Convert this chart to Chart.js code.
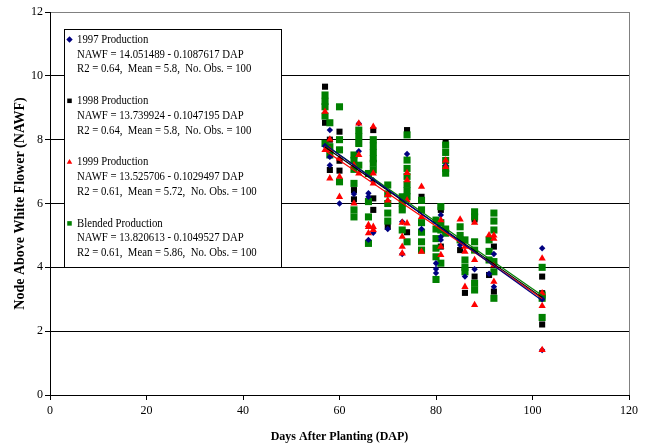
<!DOCTYPE html>
<html>
<head>
<meta charset="utf-8">
<script src="https://cdn.jsdelivr.net/npm/chart.js@4/dist/chart.umd.min.js"></script>
<style>
  html, body { margin: 0; padding: 0; background: #fff; }
  #wrap { width: 654px; height: 448px; }
</style>
</head>
<body>
<div id="wrap"><canvas id="c" width="654" height="448"></canvas></div>
<script>
// Node above white flower (NAWF) observations by days after planting (DAP)
const dap1997  = [57, 58,58,58, 60, 63, 64,64, 66,66,66, 67,67, 70, 73,73, 74, 77, 80,80,80, 81,81,81, 82, 85, 86, 88, 91, 92,92, 102,102,102];
const nawf1997 = [7.8, 8.3,7.46,7.2, 6.0, 6.3, 8.51,7.64, 6.32,6.21,4.86, 6.73,5.08, 5.2, 5.43,4.42, 7.55, 5.2, 4.13,3.95,3.82, 5.64,4.96,4.86, 7.2, 4.7, 3.71, 3.94, 3.8, 4.42,3.39, 4.6,1.41,3.0];

const dap1998  = [57,57,57, 58,58, 60,60,60,60, 63,63, 64, 67,67,67, 70, 73, 74,74, 77, 80, 81,81, 82, 85, 86, 88,88, 91, 92,92, 102,102,102];
const nawf1998 = [9.66,9.24,8.53, 8.0,7.05, 8.25,7.68,7.34,7.03, 6.42,6.13, 7.9, 8.3,6.16,5.8, 5.27, 5.82, 8.3,5.1, 6.21, 3.62, 5.8,4.65, 7.9, 4.54, 3.2, 5.5,3.71, 3.76, 4.65,3.24, 3.71,3.19,2.21];

const dap1999  = [57,57, 58,58,58, 60,60,60, 63,63, 64,64,64, 66,66,66, 67,67,67,67,67, 70,70, 73,73,73,73, 74,74,74,74, 77,77,77, 81,81,81, 82,82, 85, 86,86,86, 88,88,88, 91, 92,92,92,92, 102,102,102,102];
const nawf1999 = [8.88,7.68, 8.01,7.68,6.79, 7.41,6.84,6.21, 7.2,6.0, 8.51,7.52,6.94, 5.33,5.27,5.07, 8.41,6.94,6.63,5.27,5.17, 6.27,6.1, 5.4,4.96,4.65,4.44, 6.96,6.73,6.1,5.38, 6.53,5.58,4.49, 5.48,4.65,4.39, 7.35,7.15, 5.5, 4.65,4.49,3.39, 5.4,4.23,2.82, 5.01, 5.0,4.9,4.07,3.55, 4.28,3.19,2.79,1.41];

const dapBlend  = [57,57,57,57,57, 58,58,58, 60,60,60,60, 63,63,63,63,63,63, 64,64,64,64, 66,66,66,66, 67,67,67,67,67,67, 70,70,70,70,70, 73,73,73,73, 74,74,74,74,74,74,74,74, 77,77,77,77,77,77, 80,80,80,80,80,80, 81,81,81,81, 82,82,82,82,82,82,82, 85,85,85, 86,86,86,86, 88,88,88,88,88,88, 91,91,91, 92,92,92,92,92,92, 102,102,102,102];
const nawfBlend = [9.4,9.2,9.03,8.74,7.88, 8.53,7.78,7.52, 9.03,8.0,7.68,6.68, 7.52,7.35,7.07,6.63,5.8,5.58, 8.3,8.1,7.88,7.2, 6.94,6.06,5.58,4.75, 8.0,7.8,7.6,7.4,7.26,7.05, 6.58,6.3,6.0,5.7,5.45, 6.21,6.0,5.8,5.17, 8.15,7.36,7.1,6.85,6.6,6.4,6.21,4.8, 6.1,5.8,5.4,5.1,4.8,4.54, 5.48,5.2,4.9,4.6,4.33,3.62, 5.9,5.4,5.17,4.13, 7.83,7.6,7.35,7.1,6.95,5.2,5.07, 5.27,5.0,4.86, 4.86,4.23,4.0,3.86, 5.74,5.58,4.8,4.54,3.5,3.29, 4.86,4.5,4.23, 5.7,5.45,5.17,4.18,3.86,3.03, 4.0,3.13,3.03,2.43];

// Fitted linear models: NAWF = intercept + slope * DAP
const seriesNames = ['1997 Production', '1998 Production', '1999 Production', 'Blended Production'];
const intercepts  = [14.051489, 13.739924, 13.525706, 13.820613];
const slopes      = [-0.1087617, -0.1047195, -0.1029497, -0.1049527];
const r2Values    = [0.64, 0.64, 0.61, 0.61];
const meanValues  = [5.8, 5.8, 5.72, 5.86];
const obsCounts   = [100, 100, 100, 100];
const fitRange    = [57, 102];

const xTicks = [0, 20, 40, 60, 80, 100, 120];
const yTicks = [0, 2, 4, 6, 8, 10, 12];

const colors = ['#000080', '#000000', '#FF0000', '#008000'];
const styles = ['rectRot', 'rect', 'triangle', 'rect'];
const radii  = [3.2, 4.3, 4.2, 5];

const pairs = (xs, ys) => xs.map((x, i) => ({ x: x, y: ys[i] }));
const obs = [pairs(dap1997, nawf1997), pairs(dap1998, nawf1998), pairs(dap1999, nawf1999), pairs(dapBlend, nawfBlend)];
const drawOrder = [2, 4, 1, 3];

const scatterSets = obs.map((pts, i) => ({
  type: 'scatter',
  label: seriesNames[i],
  data: pts,
  order: drawOrder[i],
  pointStyle: styles[i],
  pointRadius: radii[i],
  pointHoverRadius: radii[i],
  pointBorderWidth: 0,
  backgroundColor: colors[i],
  borderColor: colors[i]
}));

const fitSets = intercepts.map((b, i) => ({
  type: 'line',
  label: seriesNames[i] + ' fit',
  data: fitRange.map(x => ({ x: x, y: b + slopes[i] * x })),
  order: 0,
  borderColor: colors[i],
  borderWidth: 1.2,
  pointRadius: 0,
  fill: false
}));

const serif = '"Liberation Serif", "Times New Roman", serif';

// Boxed legend with the equation and summary statistics of each series
const fitLegend = {
  id: 'fitLegend',
  afterDraw(chart) {
    const ctx = chart.ctx;
    const box = { x: 64.5, y: 29.5, w: 217, h: 238 };
    ctx.save();
    ctx.fillStyle = '#fff';
    ctx.fillRect(box.x, box.y, box.w, box.h);
    ctx.strokeStyle = '#000';
    ctx.lineWidth = 1;
    ctx.strokeRect(box.x, box.y, box.w, box.h);
    ctx.font = '12.5px ' + serif;
    ctx.textBaseline = 'middle';
    const sx = 0.86;
    const put = (t, x, y) => {
      ctx.save();
      ctx.translate(x, y);
      ctx.scale(sx, 1);
      ctx.fillStyle = '#000';
      ctx.fillText(t, 0, 0);
      ctx.restore();
    };
    seriesNames.forEach((name, i) => {
      const y0 = 39.5 + i * 61.3;
      ctx.fillStyle = colors[i];
      Chart.helpers.drawPoint(ctx, { pointStyle: styles[i], radius: 3.2, borderWidth: 0, rotation: 0 }, 69.5, y0);
      put(name, 77, y0);
      put('NAWF = ' + intercepts[i].toFixed(6) + ' - ' + (-slopes[i]).toFixed(7) + ' DAP', 77, y0 + 14.8);
      put('R2 = ' + r2Values[i] + ',  Mean = ' + meanValues[i] + ',  No. Obs. = ' + obsCounts[i], 77, y0 + 29.6);
    });
    ctx.restore();
  }
};

new Chart(document.getElementById('c'), {
  data: { datasets: [...fitSets, ...scatterSets] },
  options: {
    responsive: false,
    devicePixelRatio: 1,
    animation: false,
    events: [],
    layout: { padding: { left: 0, top: 12, right: 25, bottom: 0 } },
    plugins: { legend: { display: false }, tooltip: { enabled: false } },
    scales: {
      x: {
        type: 'linear',
        min: 0, max: 120,
        afterFit(s) { s.height = 53; },
        afterBuildTicks(s) { s.ticks = xTicks.map(v => ({ value: v })); },
        ticks: { color: '#000', padding: 4, font: { family: serif, size: 12 } },
        grid: {
          drawOnChartArea: true,
          color: c => (c.tick && c.tick.value === 120 ? '#808080' : 'rgba(0,0,0,0)'),
          tickColor: '#000',
          tickLength: 5,
          lineWidth: 1
        },
        border: { display: true, color: '#000', width: 1 },
        title: {
          display: true,
          text: 'Days After Planting (DAP)',
          color: '#000',
          font: { family: serif, size: 12, weight: 'bold' },
          padding: { top: 0, bottom: 4 }
        }
      },
      y: {
        type: 'linear',
        min: 0, max: 12,
        afterFit(s) { s.width = 50; },
        afterBuildTicks(s) { s.ticks = yTicks.map(v => ({ value: v })); },
        ticks: { color: '#000', padding: 2, font: { family: serif, size: 12 } },
        grid: {
          color: c => (c.tick && c.tick.value === 12 ? '#808080' : '#000'),
          tickColor: '#000',
          tickLength: 5,
          lineWidth: 1
        },
        border: { display: true, color: '#000', width: 1 },
        title: {
          display: true,
          text: 'Node Above White Flower (NAWF)',
          color: '#000',
          font: { family: serif, size: 14, weight: 'bold' },
          padding: { top: 12, bottom: 0 }
        }
      }
    }
  },
  plugins: [fitLegend]
});
</script>
</body>
</html>
